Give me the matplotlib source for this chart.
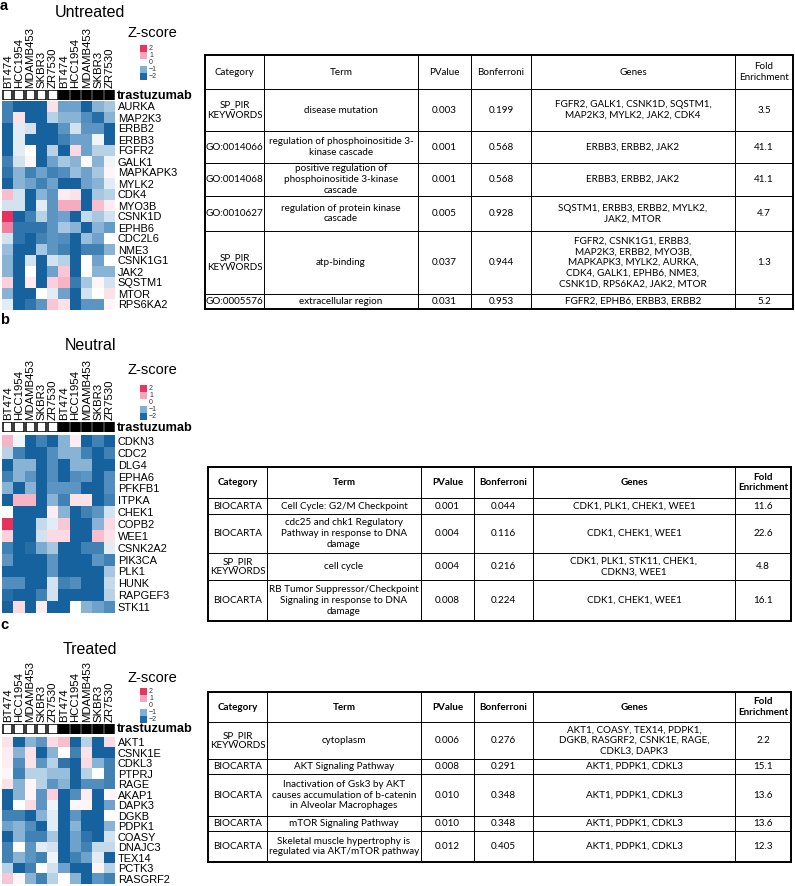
import matplotlib
import matplotlib.pyplot as plt
from matplotlib import font_manager
from matplotlib.colors import LinearSegmentedColormap, ListedColormap
import numpy as np

matplotlib.use("Agg")

cell_lines = ["BT474", "HCC1954", "MDAMB453", "SKBR3", "ZR7530"] * 2
trastuzumab = [0, 0, 0, 0, 0, 1, 1, 1, 1, 1]
legend_levels = [2, 1, 0, -1, -2]

genes_untreated = ["AURKA", "MAP2K3", "ERBB2", "ERBB3", "FGFR2", "GALK1", "MAPKAPK3", "MYLK2", "CDK4",
                   "MYO3B", "CSNK1D", "EPHB6", "CDC2L6", "NME3", "CSNK1G1", "JAK2", "SQSTM1", "MTOR",
                   "RPS6KA2"]
z_untreated = [
    [-1.5, -2, -2, -2, 0.3, -1, -1, -2, -0.8, -0.6],
    [-1.5, 0.3, -2, -2, -0.5, -0.8, -0.8, -1.3, -1.8, -0.8],
    [-2, -0.2, -0.3, -2, -2, -1.2, -0.3, -1.2, -1.2, -2],
    [-2, -0.2, -2, -2, -2, -1.5, -1, -1, -0.1, -2],
    [-2, -0.2, 0, -2, -0.5, -2, 0.4, -1, -0.5, -0.5],
    [-1.5, -0.3, 0.1, -2, -1, -0.6, -0.8, 0, -0.8, -0.1],
    [-1.7, -0.8, -1.5, -1, -1.5, -1.3, -0.7, -1, -0.6, 0.1],
    [-2, -0.8, -1, -1.5, -1, -2, -2, -1, -0.8, -0.2],
    [0.7, -0.3, -2, -0.8, -1.2, 0.2, 0.3, -2, -0.6, -0.5],
    [-0.3, -0.3, -2, -0.2, -1.2, 0.9, 0.9, -2, 0.7, 0.2],
    [2, -2, -1.5, -0.5, -1.2, -1, -2, -0.4, -0.6, -0.3],
    [1.3, -1.7, -1.7, -1.7, -1.2, -0.6, -0.8, -2, -0.8, -1.1],
    [-0.3, -1.7, -2, -1.5, -1.2, -1.3, -2, -0.7, -1, 0],
    [-0.7, -2, -2, -0.6, -1.2, -1.5, -2, -1.5, -1.5, -0.8],
    [-0.8, -2, -0.3, -2, -0.3, -0.5, -2, 0, -1, 0],
    [-0.8, -2, 0, -2, -1, 0.6, -2, 0, -0.8, -0.8],
    [0.5, -2, 0.2, -2, 0.5, 0.8, -1.6, -0.6, 0.1, -0.3],
    [-0.8, -2, -2, 0, -0.2, -1, -2, -0.3, 0, 0.3],
    [-0.2, -2, -1.7, -1.2, 0.6, 0.3, -2, -1.2, -1.2, 0.1],
]

genes_neutral = ["CDKN3", "CDC2", "DLG4", "EPHA6", "PFKFB1", "ITPKA", "CHEK1", "COPB2", "WEE1",
                 "CSNK2A2", "PIK3CA", "PLK1", "HUNK", "RAPGEF3", "STK11"]
z_neutral = [
    [0.8, -0.1, -2, -1.5, -2, -0.8, 0.2, -2, -1.5, -2],
    [-0.5, -1.5, -2, -2, -1.3, -0.8, -0.8, -1.5, -2, -1.5],
    [-2, -0.8, -0.8, -2, -1.3, -2, -0.8, -0.8, -2, -2],
    [-1.5, -0.8, -1.2, -2, -1.3, -2, -1.3, -1.2, -2, -1.3],
    [-0.8, -2, -0.8, -2, -1.2, -1.2, -1.2, -2, -2, -1.3],
    [-2, 0.8, 0.8, -2, -0.8, -1.5, 0.3, 0.3, -2, -1.5],
    [0, -2, -2, -2, 0.2, -0.8, -2, -1.5, -1.2, -0.3],
    [2, -2, -2, -0.4, -0.2, 0.6, -2, -2, -0.8, 0.4],
    [0.5, -2, -2, -0.3, 0.4, 0.4, -2, -2, 0.7, 0.3],
    [-1.5, -2, -1.8, -0.9, -0.6, -2, -2, -1.5, -1.5, -0.2],
    [-1.2, -2, -2, -2, -1.2, -2, -2, -2, -1.2, -1.5],
    [-2, -2, -2, -2, -1.2, -2, -2, -2, -2, -0.6],
    [-1.3, -1.3, -2, -2, -0.3, -1.5, -1.3, -2, -2, -0.4],
    [-1.8, -2, -2, -1.5, -0.3, -2, -2, -2, -2, -0.5],
    [-2, 0.4, -2, 0.2, -2, -2, 0, -0.8, -1, -1.3],
]

genes_treated = ["AKT1", "CSNK1E", "CDKL3", "PTPRJ", "RAGE", "AKAP1", "DAPK3", "DGKB", "PDPK1",
                 "COASY", "DNAJC3", "TEX14", "PCTK3", "RASGRF2"]
z_treated = [
    [0.3, -2, -0.8, -1.2, 0.4, 0.7, -2, -0.5, -2, 0.4],
    [0.2, -0.8, 0.3, -2, -0.8, 0, -1.5, 0.3, -2, -2],
    [0.2, -1.3, 0.3, -1.2, -0.5, -1.7, -2, 0.4, -0.8, -1.5],
    [0.1, -1.5, -0.5, -0.5, -0.7, -0.7, -2, -0.5, 0, -1.5],
    [0.3, -0.8, 0.1, -0.5, -1.2, -0.8, -2, -1.3, -1.3, -1.5],
    [-2, -0.8, 0.1, -1.2, 0.5, -2, -1.3, 0.2, -2, 0.1],
    [-2, 0, 0.4, -1.2, -0.1, -2, 0.1, 0.1, -2, -1],
    [-1.5, -1.5, -2, -0.8, -0.2, -2, -1.2, -2, -2, 0],
    [-1, -0.8, -1.3, -2, -0.2, -2, -0.8, -2, -2, -0.8],
    [-2, -0.8, -1.5, -1.5, -0.6, -2, -1, -1.7, -2, -0.3],
    [-1.5, 0, -1.2, -0.2, -0.3, -2, -1, -1.5, -0.4, -0.4],
    [-1.5, -0.8, -1.2, -1.5, -0.1, -2, -1.5, -1, -0.2, -2],
    [-0.5, -2, -1.5, 0, -0.3, -1, -2, -2, 0.1, -0.5],
    [0.6, 0.1, -0.8, -1.5, -0.5, 0, -0.8, -2, -1.2, -1.5],
]

table_header = ["Category", "Term", "PValue", "Bonferroni", "Genes", "Fold\nEnrichment"]
rows_untreated = [
    ["SP_PIR\nKEYWORDS", "disease mutation", "0.003", "0.199",
     "FGFR2, GALK1, CSNK1D, SQSTM1,\nMAP2K3, MYLK2, JAK2, CDK4", "3.5"],
    ["GO:0014066", "regulation of phosphoinositide 3-\nkinase cascade", "0.001", "0.568",
     "ERBB3, ERBB2, JAK2", "41.1"],
    ["GO:0014068", "positive regulation of\nphosphoinositide 3-kinase\ncascade", "0.001", "0.568",
     "ERBB3, ERBB2, JAK2", "41.1"],
    ["GO:0010627", "regulation of protein kinase\ncascade", "0.005", "0.928",
     "SQSTM1, ERBB3, ERBB2, MYLK2,\nJAK2, MTOR", "4.7"],
    ["SP_PIR\nKEYWORDS", "atp-binding", "0.037", "0.944",
     "FGFR2, CSNK1G1, ERBB3,\nMAP2K3, ERBB2, MYO3B,\nMAPKAPK3, MYLK2, AURKA,\n"
     "CDK4, GALK1, EPHB6, NME3,\nCSNK1D, RPS6KA2, JAK2, MTOR", "1.3"],
    ["GO:0005576", "extracellular region", "0.031", "0.953", "FGFR2, EPHB6, ERBB3, ERBB2", "5.2"],
]
rows_neutral = [
    ["BIOCARTA", "Cell Cycle: G2/M Checkpoint", "0.001", "0.044", "CDK1, PLK1, CHEK1, WEE1", "11.6"],
    ["BIOCARTA", "cdc25 and chk1 Regulatory\nPathway in response to DNA\ndamage", "0.004", "0.116",
     "CDK1, CHEK1, WEE1", "22.6"],
    ["SP_PIR\nKEYWORDS", "cell cycle", "0.004", "0.216", "CDK1, PLK1, STK11, CHEK1,\nCDKN3, WEE1", "4.8"],
    ["BIOCARTA", "RB Tumor Suppressor/Checkpoint\nSignaling in response to DNA\ndamage", "0.008", "0.224",
     "CDK1, CHEK1, WEE1", "16.1"],
]
rows_treated = [
    ["SP_PIR\nKEYWORDS", "cytoplasm", "0.006", "0.276",
     "AKT1, COASY, TEX14, PDPK1,\nDGKB, RASGRF2, CSNK1E, RAGE,\nCDKL3, DAPK3", "2.2"],
    ["BIOCARTA", "AKT Signaling Pathway", "0.008", "0.291", "AKT1, PDPK1, CDKL3", "15.1"],
    ["BIOCARTA", "Inactivation of Gsk3 by AKT\ncauses accumulation of b-catenin\nin Alveolar Macrophages",
     "0.010", "0.348", "AKT1, PDPK1, CDKL3", "13.6"],
    ["BIOCARTA", "mTOR Signaling Pathway", "0.010", "0.348", "AKT1, PDPK1, CDKL3", "13.6"],
    ["BIOCARTA", "Skeletal muscle hypertrophy is\nregulated via AKT/mTOR pathway", "0.012", "0.405",
     "AKT1, PDPK1, CDKL3", "12.3"],
]

W, H = 795, 886
installed = {f.name for f in font_manager.fontManager.ttflist}
label_font = "Liberation Sans" if "Liberation Sans" in installed else "DejaVu Sans"
table_font = "Lato" if "Lato" in installed else label_font
plt.rcParams["font.family"] = label_font

zmap = LinearSegmentedColormap.from_list(
    "zscore", [(0, "#15629e"), (0.25, "#6ea2cc"), (0.5, "#ffffff"), (0.75, "#f5a3ba"), (1, "#e92f5d")])
legend_map = ListedColormap(["#1d6aa6", "#7eb1d8", "#ffffff", "#f6a6bc", "#ea3562"])

fig = plt.figure(figsize=(W / 100, H / 100), dpi=100)
canvas = fig.add_axes([0, 0, 1, 1])
canvas.set_xlim(0, W)
canvas.set_ylim(H, 0)
canvas.axis("off")


def box_axes(x0, y0, x1, y1):
    return fig.add_axes([x0 / W, 1 - y1 / H, (x1 - x0) / W, (y1 - y0) / H])


def draw_heatmap(genes, z, letter, title, y_letter, y_title, y_z, y_legend, y_trast, y0, y1):
    canvas.text(0, y_letter, letter, fontsize=10.5, fontweight="bold", va="center", ha="left")
    canvas.text(90, y_title, title, fontsize=11.5, va="center", ha="center")
    canvas.text(152, y_z, "Z-score", fontsize=10.5, va="center", ha="center")

    leg = box_axes(140, y_legend, 147, y_legend + 35)
    leg.imshow(np.array(legend_levels).reshape(-1, 1), cmap=legend_map, vmin=-2.5, vmax=2.5,
               aspect="auto", interpolation="nearest")
    leg.axis("off")
    for i, lev in enumerate(legend_levels):
        canvas.text(149, y_legend + 3.5 + i * 7, str(lev).replace("-", "\u2212"),
                    fontsize=5, va="center", ha="left", color="#333333")

    tr = box_axes(2, y_trast, 115, y_trast + 10)
    tr.bar(range(10), [1] * 10, width=0.84, color=["black" if t else "white" for t in trastuzumab],
           edgecolor="black", linewidth=1.1)
    tr.set_xlim(-0.5, 9.5)
    tr.set_ylim(0, 1)
    tr.set_xticks(range(10))
    tr.set_xticklabels(cell_lines, rotation=90, fontsize=8.2)
    tr.set_yticks([])
    tr.tick_params(top=True, labeltop=True, bottom=False, labelbottom=False, length=0, pad=1.5)
    for s in tr.spines.values():
        s.set_visible(False)
    canvas.text(117, y_trast + 5.5, "trastuzumab", fontsize=9.2, fontweight="bold", va="center", ha="left")

    hm = box_axes(2, y0, 115, y1)
    hm.imshow(np.array(z), cmap=zmap, vmin=-2, vmax=2, aspect="auto", interpolation="nearest")
    hm.set_xticks([])
    hm.set_yticks(range(len(genes)))
    hm.set_yticklabels(genes, fontsize=7.9)
    hm.yaxis.tick_right()
    hm.tick_params(length=0, pad=2)
    for s in hm.spines.values():
        s.set_visible(False)


def draw_table(xs, ys, rows, bold_header):
    for i, y in enumerate(ys):
        lw = 1.4 if i in (0, len(ys) - 1) else 0.7
        canvas.plot([xs[0], xs[-1]], [y, y], color="black", lw=lw, solid_capstyle="projecting")
    for j, x in enumerate(xs):
        lw = 1.4 if j in (0, len(xs) - 1) else 0.7
        canvas.plot([x, x], [ys[0], ys[-1]], color="black", lw=lw, solid_capstyle="projecting")
    for r, row in enumerate([table_header] + rows):
        yc = (ys[r] + ys[r + 1]) / 2
        for c, txt in enumerate(row):
            xc = (xs[c] + xs[c + 1]) / 2
            weight = "bold" if (r == 0 and bold_header) else "normal"
            canvas.text(xc, yc, txt, family=table_font, fontsize=7.1, fontweight=weight,
                        ha="center", va="center", multialignment="center", linespacing=1.25)


draw_heatmap(genes_untreated, z_untreated, "a", "Untreated", 6, 12, 33, 45, 90, 101, 310)
draw_heatmap(genes_neutral, z_neutral, "b", "Neutral", 320, 345, 370, 385, 422, 435, 613)
draw_heatmap(genes_treated, z_treated, "c", "Treated", 625, 650, 678, 688, 724, 737, 884)

draw_table([205, 264, 418, 471, 531, 735, 793], [55, 89, 131, 163, 196, 231, 294, 309], rows_untreated, False)
draw_table([208, 267, 421, 474, 533, 735, 791], [467, 498, 514, 553, 580, 621], rows_neutral, True)
draw_table([208, 267, 421, 474, 533, 735, 791], [692, 722, 759, 774, 816, 831, 862], rows_treated, True)

fig.savefig("out.png", dpi=100)
